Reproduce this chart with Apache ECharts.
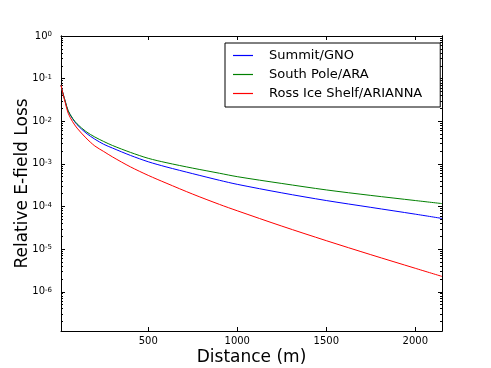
<!DOCTYPE html>
<html>
<head>
<meta charset="utf-8">
<script src="https://cdn.jsdelivr.net/npm/echarts@6/dist/echarts.min.js"></script>
<style>
    html, body { margin: 0; padding: 0; background: #fff; }
    #chart { width: 491px; height: 368px; }
</style>
</head>
<body>
<div id="chart"></div>
<script>
// distance (m) and relative loss
const distance = [10, 20, 35, 50, 75, 100, 150, 200, 250, 300, 400, 500, 600, 750, 900, 1000, 1250, 1500, 1750, 2000, 2150]
const summit = [0.0708, 0.0468, 0.0282, 0.0174, 0.0115, 0.00832, 0.00531, 0.00380, 0.00288, 0.00234, 0.00158, 0.00112,
    0.000851, 0.000589, 0.000412, 0.000331, 0.000209, 0.000138, 0.0000955, 0.0000661, 0.0000525]
const southPole = [0.0708, 0.0468, 0.0282, 0.0178, 0.0117, 0.00871, 0.00575, 0.00427, 0.00335, 0.00269, 0.00186, 0.00135,
    0.00107, 0.000794, 0.000603, 0.000501, 0.000347, 0.000245, 0.000182, 0.000138, 0.000117]
const rossIce = [0.0708, 0.0457, 0.0263, 0.0155, 0.00977, 0.00692, 0.00407, 0.00263, 0.00195, 0.00145, 0.000851, 0.000537,
    0.000355, 0.000195, 0.000112, 0.0000794, 0.0000347, 0.0000158, 0.00000741, 0.00000355, 0.00000229]
const seriesNames = ['Summit/GNO', 'South Pole/ARA', 'Ross Ice Shelf/ARIANNA']
const xTicks = [500, 1000, 1500, 2000]
const yMin = 1.2e-7

// matplotlib style minor ticks 2..9 x 10^n
const minorTicks = []
for (let n = -7; n < 0; n++) {
    for (let k = 2; k <= 9; k++) {
        const v = k * Math.pow(10, n)
        if (v > yMin) minorTicks.push(v)
    }
}

const font = 'DejaVu Sans'
const pairs = (ys) => distance.map((d, i) => [d, ys[i]])

const chart = echarts.init(document.getElementById('chart'))

const yBase = {
    type: 'log',
    logBase: 10,
    min: yMin,
    max: 1,
    splitLine: { show: false },
    axisLine: { show: true, lineStyle: { color: '#000', width: 1 } },
}

const option = {
    backgroundColor: '#fff',
    animation: false,
    textStyle: { fontFamily: font },
    grid: { left: 61, right: 49, top: 36, bottom: 37, outerBoundsMode: 'none', containLabel: false },
    legend: {
        orient: 'vertical',
        left: 225,
        top: 43,
        padding: [6, 18, 7, 8],
        icon: 'rect',
        itemGap: 6,
        itemWidth: 20,
        itemHeight: 1.2,
        borderColor: '#000',
        borderWidth: 1,
        borderRadius: 0,
        backgroundColor: '#fff',
        data: seriesNames,
        textStyle: { fontFamily: font, fontSize: 13, color: '#000', padding: [0, 0, 0, 11] }
    },
    xAxis: [
        {
            type: 'value',
            min: 10,
            max: 2150,
            name: 'Distance (m)',
            nameLocation: 'middle',
            nameGap: 18,
            nameMoveOverlap: false,
            nameTextStyle: { fontFamily: font, fontSize: 17, color: '#000' },
            splitLine: { show: false },
            axisLine: { lineStyle: { color: '#000', width: 1 } },
            axisTick: { inside: true, length: 4, customValues: xTicks, lineStyle: { color: '#000' } },
            axisLabel: { customValues: xTicks, margin: 5, fontFamily: font, fontSize: 10, color: '#000', formatter: (v) => String(v) }
        },
        {
            type: 'value',
            position: 'top',
            min: 10,
            max: 2150,
            splitLine: { show: false },
            axisLine: { show: true, lineStyle: { color: '#000', width: 1 } },
            axisTick: { inside: true, length: 4, customValues: xTicks, lineStyle: { color: '#000' } },
            axisLabel: { show: false }
        }
    ],
    yAxis: [
        Object.assign({}, yBase, {
            position: 'left',
            name: 'Relative E-field Loss',
            nameLocation: 'middle',
            nameGap: 30,
            nameMoveOverlap: false,
            nameTextStyle: { fontFamily: font, fontSize: 17, color: '#000' },
            axisTick: { inside: true, length: 4, lineStyle: { color: '#000' } },
            axisLabel: {
                showMinLabel: false,
                margin: 9,
                formatter: (v) => '{b|10}{s|' + Math.round(Math.log10(v)) + '}',
                rich: {
                    b: { fontFamily: font, fontSize: 10, lineHeight: 10, padding: [3, 0, 0, 0], color: '#000', verticalAlign: 'bottom' },
                    s: { fontFamily: font, fontSize: 7, lineHeight: 7, padding: [0, 0, 6, 0], color: '#000', verticalAlign: 'top' }
                }
            }
        }),
        Object.assign({}, yBase, {
            position: 'left',
            axisTick: { inside: true, length: 2, customValues: minorTicks, lineStyle: { color: '#000' } },
            axisLabel: { show: false }
        }),
        Object.assign({}, yBase, {
            position: 'right',
            axisTick: { inside: true, length: 4, lineStyle: { color: '#000' } },
            axisLabel: { show: false }
        }),
        Object.assign({}, yBase, {
            position: 'right',
            axisTick: { inside: true, length: 2, customValues: minorTicks, lineStyle: { color: '#000' } },
            axisLabel: { show: false }
        })
    ],
    series: [
        { name: seriesNames[0], type: 'line', data: pairs(summit), color: '#0000ff' },
        { name: seriesNames[1], type: 'line', data: pairs(southPole), color: '#008000' },
        { name: seriesNames[2], type: 'line', data: pairs(rossIce), color: '#ff0000' }
    ].map(s => Object.assign(s, {
        showSymbol: false,
        symbol: 'none',
        smooth: 0.3,
        lineStyle: { width: 1, color: s.color },
        emphasis: { disabled: true }
    }))
}

chart.setOption(option)
</script>
</body>
</html>
